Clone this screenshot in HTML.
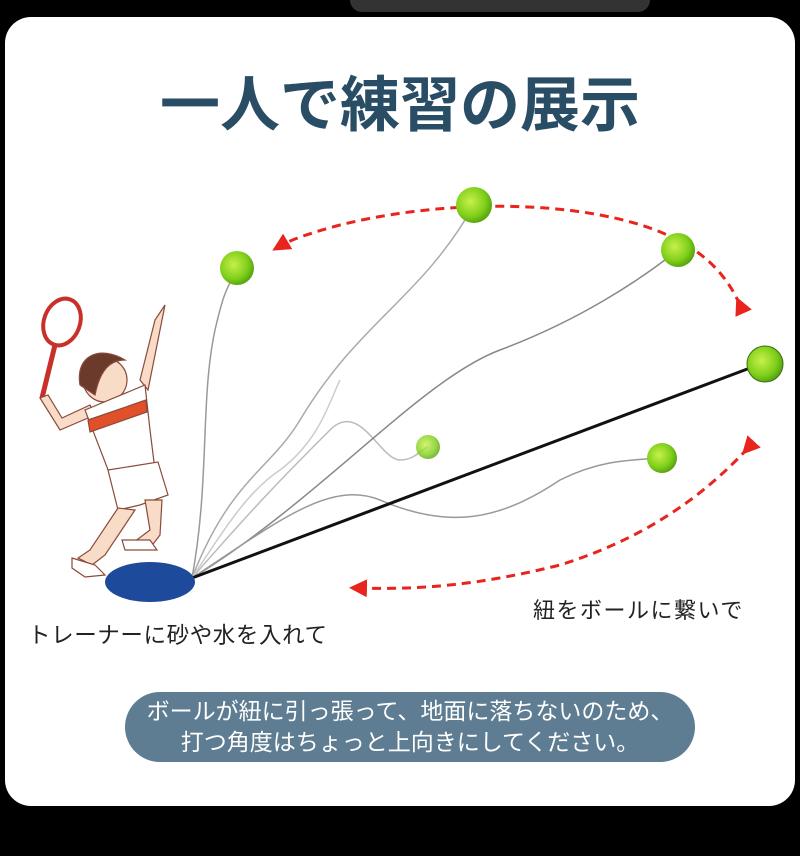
<!DOCTYPE html>
<html><head><meta charset="utf-8"><style>
html,body{margin:0;padding:0;background:#000;}
body{width:800px;height:856px;position:relative;overflow:hidden;font-family:"Liberation Sans","Noto Sans CJK JP",sans-serif;}
.card{position:absolute;left:5px;top:17px;width:790px;height:789px;background:#fff;border-radius:26px;}
.title{position:absolute;left:0;width:800px;top:68px;text-align:center;font-size:60px;font-weight:bold;color:#2a4d66;letter-spacing:0;line-height:76px;}
.l1{position:absolute;left:28px;top:618px;font-size:22.5px;color:#222;letter-spacing:0.6px;}
.l2{position:absolute;left:533px;top:593px;font-size:22px;color:#222;letter-spacing:1.5px;}
.pill{position:absolute;left:125px;top:692px;width:570px;height:70px;border-radius:35px;background:#5f7d92;color:#fff;font-size:23px;text-align:center;line-height:31px;padding-top:4px;box-sizing:border-box;}
</style></head><body>
<div style="position:absolute;left:350px;top:0;width:300px;height:12px;background:#333;border-radius:0 0 40px 40px"></div>
<div class="card"></div>
<div class="title">一人で練習の展示</div>
<svg width="800" height="856" style="position:absolute;left:0;top:0">
<defs>
<radialGradient id="b" cx="40%" cy="40%" r="60%"><stop offset="0" stop-color="#c8f04a"/><stop offset="0.7" stop-color="#7fcf1a"/><stop offset="1" stop-color="#5aa810"/></radialGradient>
<marker id="ar" markerWidth="6" markerHeight="6" refX="3" refY="3" orient="auto"><path d="M0,0 L6,3 L0,6 z" fill="#e8241c"/></marker>
</defs>
<g fill="none" stroke-width="1.5">
<path d="M192,578 C210,480 200,400 215,330 C222,300 225,290 237,270" stroke="#999"/>
<path d="M192,578 C230,480 270,470 300,420 C360,320 420,300 474,205" stroke="#aaa"/>
<path d="M192,578 C260,500 290,470 330,430 C360,400 380,460 400,460 C415,460 420,450 428,447" stroke="#bbb"/>
<path d="M192,578 C320,500 420,380 500,350 C580,320 640,280 678,250" stroke="#888"/>
<path d="M192,578 C280,520 330,480 380,500 C450,530 500,520 560,480 C600,460 630,460 662,458" stroke="#999"/>
<path d="M192,578 C230,520 250,490 280,470 C320,440 330,400 340,380" stroke="#ccc"/>
</g>
<line x1="192" y1="578" x2="750" y2="368" stroke="#111" stroke-width="3"/>
<path d="M740,305 C720,260 680,230 600,215 C520,200 420,205 340,225 C310,233 290,240 280,246" fill="none" stroke="#e8241c" stroke-width="3" stroke-dasharray="9,6" marker-end="url(#ar)" marker-start="url(#ar)"/>
<path d="M748,448 C700,500 640,540 560,565 C480,585 420,590 358,588" fill="none" stroke="#e8241c" stroke-width="3" stroke-dasharray="9,6" marker-end="url(#ar)" marker-start="url(#ar)"/>
<g fill="url(#b)">
<circle cx="474" cy="205" r="18"/><circle cx="237" cy="268" r="17"/><circle cx="678" cy="250" r="17"/>
<circle cx="765" cy="364" r="18" stroke="#3a7010" stroke-width="1"/><circle cx="428" cy="447" r="12" opacity="0.8"/><circle cx="662" cy="458" r="15"/>
</g>
<ellipse cx="150" cy="582" rx="45" ry="20" fill="#1d4a9a"/>
<g stroke="#8a4a3a" stroke-width="1.2">
<ellipse cx="62" cy="322" rx="18" ry="24" transform="rotate(20 62 322)" fill="none" stroke="#c8302a" stroke-width="4"/>
<line x1="55" y1="345" x2="42" y2="398" stroke="#c8302a" stroke-width="5"/>
<path d="M140,380 L155,320 L165,305 L160,330 L148,390 Z" fill="#f8dcc8"/>
<path d="M40,398 L60,430 L95,415 L90,405 L62,418 L48,395 Z" fill="#f8dcc8"/>
<circle cx="105" cy="380" r="22" fill="#f8dcc8"/>
<path d="M80,385 C75,355 100,345 125,360 C110,360 100,370 95,395 Z" fill="#6b3a2a"/>
<path d="M85,410 L145,385 L150,430 L155,470 L110,475 Z" fill="#fff"/>
<path d="M88,420 L146,400 L147,412 L90,432 Z" fill="#e0502a"/>
<path d="M108,470 L158,462 L168,495 L140,505 L118,510 Z" fill="#fff"/>
<path d="M118,508 L90,550 L78,558 L92,565 L105,555 L135,510 Z" fill="#f8dcc8"/>
<path d="M145,500 L150,530 L130,545 L150,548 L160,535 L162,500 Z" fill="#f8dcc8"/>
<path d="M72,558 L95,565 L105,575 L85,577 L72,568 Z" fill="#fff"/>
<path d="M122,540 L150,540 L157,550 L125,550 Z" fill="#fff"/>
</g>
</svg>
<div class="l1">トレーナーに砂や水を入れて</div>
<div class="l2">紐をボールに繋いで</div>
<div class="pill">ボールが紐に引っ張って、地面に落ちないのため、<br>打つ角度はちょっと上向きにしてください。</div>
</body></html>
